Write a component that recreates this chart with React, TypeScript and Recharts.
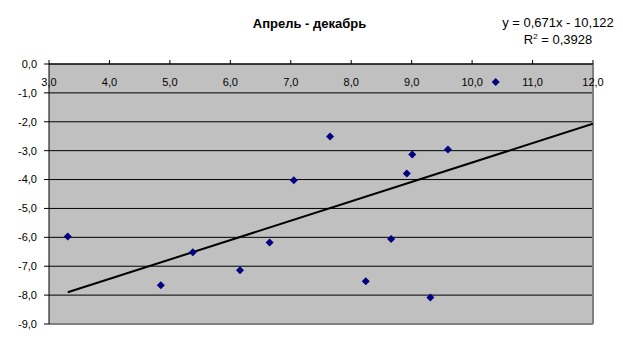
import React from 'react';
import { ScatterChart, Scatter, XAxis, YAxis, CartesianGrid, ReferenceLine } from 'recharts';

const xValues = [3.31, 4.85, 5.38, 6.16, 6.65, 7.05, 7.65, 8.24, 8.66, 8.92, 9.01, 9.31, 9.6, 10.39];
const yValues = [-5.97, -7.66, -6.52, -7.14, -6.18, -4.02, -2.51, -7.52, -6.06, -3.79, -3.13, -8.08, -2.96, -0.62];
const xTicks = [3, 4, 5, 6, 7, 8, 9, 10, 11, 12];
const yTicks = [0, -1, -2, -3, -4, -5, -6, -7, -8, -9];
const trendCoef = [0.671, -10.122]; // slope, intercept
const rSquared = '0,3928';

const FONT = '"Liberation Sans", Arial, sans-serif';

const points = xValues.map((x, i) => ({ x, y: yValues[i] }));
const trendX = [Math.min(...xValues), xTicks[xTicks.length - 1]];
const trend = trendX.map((x) => ({ x, y: trendCoef[0] * x + trendCoef[1] }));

const fmt = (v: number) => v.toFixed(1).replace('.', ',');

const XTick = (props: any) => {
  const { x, y, payload } = props;
  return (
    <text x={x} y={y + 28} textAnchor="middle" fontSize={11} fontFamily={FONT} fill="#000">
      {fmt(payload.value)}
    </text>
  );
};

const Diamond = (props: any) => {
  const { cx, cy } = props;
  const r = 4;
  return <path d={`M${cx},${cy - r}L${cx + r},${cy}L${cx},${cy + r}L${cx - r},${cy}Z`} fill="#000080" />;
};

export default function App() {
  return (
    <div style={{ position: 'fixed', left: 0, top: 0, width: 623, height: 351, background: '#fff' }}>
      <div style={{ position: 'absolute', left: 0, width: 623, top: 16, textAlign: 'center', fontFamily: FONT, fontSize: 13, fontWeight: 'bold', lineHeight: '15px' }}>
        <span style={{ position: 'relative', left: -2 }}>Апрель - декабрь</span>
      </div>
      <div style={{ position: 'absolute', left: 488, width: 140, top: 14, textAlign: 'center', fontFamily: FONT, fontSize: 13, lineHeight: '17px' }}>
        <div>y = 0,671x - 10,122</div>
        <div>R<sup style={{ fontSize: 8, lineHeight: 0 }}>2</sup> = {rSquared}</div>
      </div>
      <div style={{ position: 'absolute', left: 0, top: 0 }}>
        <ScatterChart width={623} height={351} margin={{ top: 34, right: 30, bottom: 27, left: 0 }}>
          <CartesianGrid vertical={false} stroke="#000" fill="#C0C0C0" fillOpacity={1} />
          <XAxis
            type="number"
            dataKey="x"
            orientation="top"
            domain={[3, 12]}
            ticks={xTicks}
            height={30}
            tickSize={4}
            axisLine={{ stroke: '#000' }}
            tickLine={{ stroke: '#000' }}
            tick={<XTick />}
            allowDataOverflow
          />
          <YAxis
            type="number"
            dataKey="y"
            domain={[-9, 0]}
            ticks={yTicks}
            width={49}
            tickSize={5}
            tickMargin={7}
            tickFormatter={fmt}
            axisLine={{ stroke: '#000' }}
            tickLine={{ stroke: '#000' }}
            tick={{ fontSize: 11, fontFamily: FONT, fill: '#000' }}
            allowDataOverflow
          />
          <ReferenceLine y={-9} stroke="#808080" strokeWidth={2} />
          <ReferenceLine x={12} stroke="#808080" strokeWidth={2} />
          <Scatter
            data={trend}
            line={{ stroke: '#000', strokeWidth: 2 }}
            shape={() => null}
            isAnimationActive={false}
          />
          <Scatter data={points} shape={<Diamond />} isAnimationActive={false} />
        </ScatterChart>
      </div>
    </div>
  );
}
